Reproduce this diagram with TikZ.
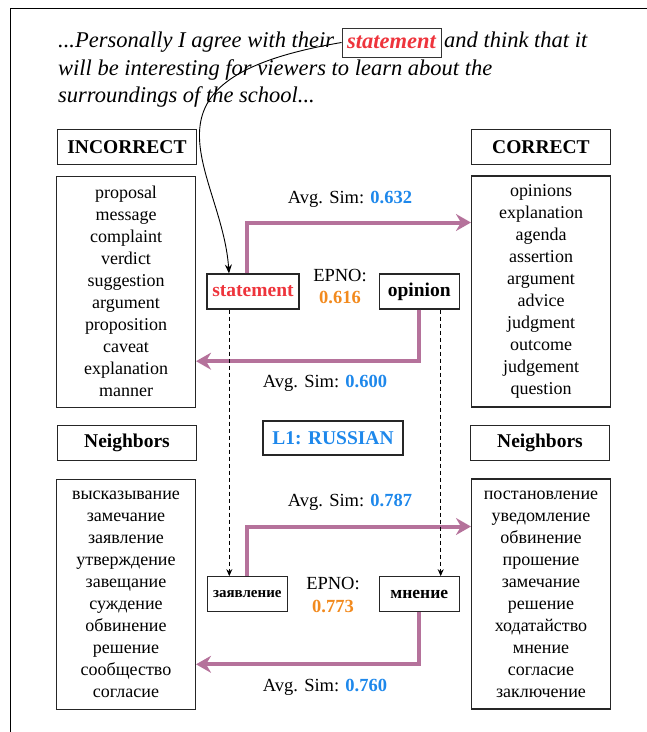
\documentclass[tikz,border=0pt]{standalone}
\usepackage{fontspec}
\setmainfont{Liberation Serif}
\usetikzlibrary{arrows.meta,calc}
\definecolor{pur}{RGB}{181,114,155}
\definecolor{myred}{RGB}{238,52,60}
\definecolor{myorange}{RGB}{242,138,30}
\definecolor{myblue}{RGB}{30,136,235}
\begin{document}
\begin{tikzpicture}[x=1pt,y=-1pt,
 box/.style={draw=black!85, line width=1.1pt, inner sep=0pt},
 hdr/.style={box, minimum width=139pt, minimum height=35pt, font=\fontsize{19.5}{22}\selectfont\bfseries},
 lst/.style={box, minimum width=139pt, minimum height=231pt, align=center, font=\fontsize{18}{22}\selectfont},
 word/.style={box, minimum height=35pt, font=\fontsize{19.5}{22}\selectfont\bfseries},
 lbl/.style={inner sep=0pt, font=\fontsize{18.5}{22.7}\selectfont, align=center},
 toptext/.style={inner sep=0pt, anchor=base west, font=\fontsize{22.5}{27}\selectfont\itshape},
 parrow/.style={draw=pur, line width=4pt, -{Stealth[length=15pt,width=17pt,inset=5pt]}},
 darrow/.style={draw=black, line width=0.8pt, dash pattern=on 4pt off 3pt, -{Stealth[length=7pt,width=6pt]}},
 carrow/.style={draw=black, line width=0.9pt, -{Stealth[length=9pt,width=7pt]}},
]
\useasboundingbox (0,0) rectangle (647,732);
% frame
\draw[line width=1.5pt] (10.5,732) -- (10.5,8.5) -- (647,8.5);

% top sentence
\node[toptext] (t1) at (58,47) {...Personally I agree with their};
\node[draw=black!80, line width=1pt, inner sep=0pt, minimum width=99pt, minimum height=29pt,
      font=\fontsize{22.5}{27}\selectfont\itshape\bfseries, text=myred] (tst) at (391.5,42.5) {statement};
\node[toptext] (t2) at (444,47) {and think that it};
\node[toptext] (t3) at (58,75) {will be interesting for viewers to learn about the};
\node[toptext] (t4) at (58,102) {surroundings of the school...};

% headers
\node[hdr] (inch) at (127,147) {INCORRECT};
\node[hdr] (corh) at (541,147) {CORRECT};
\node[hdr] (nbl) at (127,443) {Neighbors};
\node[hdr] (nbr) at (540,443) {Neighbors};

% lists
\node[lst] (incl) at (126,291.7) {proposal\\message\\complaint\\verdict\\suggestion\\argument\\proposition\\caveat\\explanation\\manner};
\node[lst] (corl) at (541,291.5) {opinions\\explanation\\agenda\\assertion\\argument\\advice\\judgment\\outcome\\judgement\\question};
\node[lst, minimum height=230pt] (nll) at (126,594.3) {высказывание\\замечание\\заявление\\утверждение\\завещание\\суждение\\обвинение\\решение\\сообщество\\согласие};
\node[lst, minimum height=230pt] (nrl) at (541,594) {постановление\\уведомление\\обвинение\\прошение\\замечание\\решение\\ходатайство\\мнение\\согласие\\заключение};

% word nodes
\node[word, minimum width=92pt, text=myred] (st) at (253,291.5) {statement};
\node[word, minimum width=80pt] (op) at (419.3,291.5) {opinion};
\node[word, minimum width=80pt, font=\fontsize{15}{18}\selectfont\bfseries] (zv) at (247.3,594.2) {заявление};
\node[word, minimum width=80pt, font=\fontsize{17.5}{20}\selectfont\bfseries] (mn) at (419.3,594.2) {мнение};

% L1 box
\node[box, minimum width=140pt, minimum height=34pt, font=\fontsize{19.5}{22}\selectfont\bfseries, text=myblue] (l1) at (333,438) {L1: RUSSIAN};

% labels
\node[lbl] (ep1) at (340,286.5) {EPNO:\\\textcolor{myorange}{\bfseries 0.616}};
\node[lbl] (ep2) at (333,595) {EPNO:\\\textcolor{myorange}{\bfseries 0.773}};
\node[lbl] (as1) at (350,199) {Avg. Sim: \textcolor{myblue}{\bfseries 0.632}};
\node[lbl] (as2) at (325,383.5) {Avg. Sim: \textcolor{myblue}{\bfseries 0.600}};
\node[lbl] (as3) at (350,502.3) {Avg. Sim: \textcolor{myblue}{\bfseries 0.787}};
\node[lbl] (as4) at (325,687) {Avg. Sim: \textcolor{myblue}{\bfseries 0.760}};

% purple arrows
\draw[parrow] ([xshift=-6.3pt]st.north) |- ([yshift=69pt]corl.west);
\draw[parrow] (op.south) |- ([yshift=-69.5pt]incl.east);
\draw[parrow] (zv.north) |- ([yshift=67.5pt]nrl.west);
\draw[parrow] (mn.south) |- ([yshift=-70pt]nll.east);

% dashed arrows
\draw[darrow] ([xshift=-23.7pt]st.south) -- ([xshift=-18pt]zv.north);
\draw[darrow] ([xshift=21.4pt]op.south) -- ([xshift=21.4pt]mn.north);

% curved arrow
\draw[carrow] (tst.west) .. controls (120,80) and (222,170) .. ([xshift=-24pt]st.north);
\end{tikzpicture}
\end{document}
